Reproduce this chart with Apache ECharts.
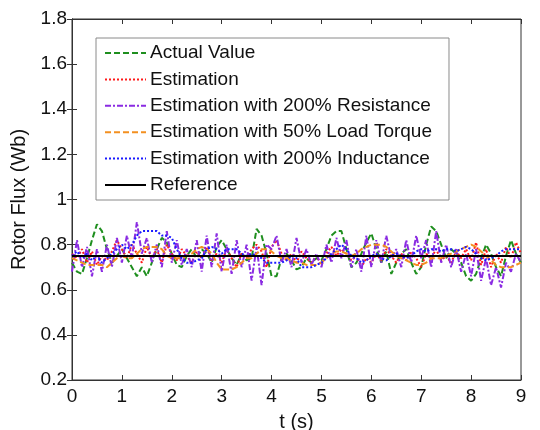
<!DOCTYPE html>
<html>
<head>
<meta charset="utf-8">
<script src="https://cdn.jsdelivr.net/npm/echarts@6/dist/echarts.min.js"></script>
<style>html,body{margin:0;padding:0;background:#fff;}#c{width:540px;height:430px;}</style>
</head>
<body>
<div id="c"></div>
<script>
const times = [0,0.1,0.2,0.3,0.4,0.5,0.6,0.7,0.8,0.9,1,1.1,1.2,1.3,1.4,1.5,1.6,1.7,1.8,1.9,2,2.1,2.2,2.3,2.4,2.5,2.6,2.7,2.8,2.9,3,3.1,3.2,3.3,3.4,3.5,3.6,3.7,3.8,3.9,4,4.1,4.2,4.3,4.4,4.5,4.6,4.7,4.8,4.9,5,5.1,5.2,5.3,5.4,5.5,5.6,5.7,5.8,5.9,6,6.1,6.2,6.3,6.4,6.5,6.6,6.7,6.8,6.9,7,7.1,7.2,7.3,7.4,7.5,7.6,7.7,7.8,7.9,8,8.1,8.2,8.3,8.4,8.5,8.6,8.7,8.8,8.9,9];

const actualValue = [0.72,0.68,0.67,0.74,0.82,0.89,0.86,0.78,0.72,0.75,
0.78,0.74,0.70,0.66,0.70,0.66,0.72,0.78,0.83,0.81,
0.76,0.71,0.70,0.75,0.78,0.74,0.78,0.76,0.72,0.79,
0.82,0.78,0.74,0.71,0.76,0.73,0.74,0.87,0.84,0.76,
0.66,0.66,0.74,0.76,0.73,0.69,0.70,0.74,0.72,0.74,
0.73,0.78,0.84,0.86,0.86,0.78,0.70,0.72,0.76,0.81,
0.85,0.78,0.72,0.77,0.67,0.72,0.76,0.78,0.72,0.67,
0.70,0.80,0.88,0.86,0.80,0.74,0.78,0.76,0.72,0.66,
0.64,0.67,0.74,0.80,0.76,0.70,0.66,0.75,0.82,0.76,0.72];

const estimation = [0.76,0.74,0.78,0.72,0.77,0.71,0.75,0.73,0.77,0.82,
0.78,0.74,0.80,0.76,0.72,0.79,0.74,0.78,0.72,0.80,
0.76,0.73,0.78,0.75,0.72,0.77,0.74,0.79,0.73,0.76,
0.72,0.78,0.74,0.70,0.76,0.74,0.78,0.80,0.77,0.70,
0.79,0.82,0.76,0.73,0.76,0.72,0.77,0.74,0.72,0.75,
0.71,0.76,0.79,0.75,0.78,0.76,0.73,0.75,0.70,0.74,
0.72,0.76,0.73,0.78,0.75,0.72,0.76,0.73,0.77,0.74,
0.70,0.76,0.74,0.78,0.73,0.75,0.72,0.77,0.74,0.78,
0.73,0.81,0.71,0.78,0.70,0.76,0.72,0.79,0.74,0.81,0.76];

const estResistance = [0.68,0.82,0.70,0.79,0.66,0.78,0.68,0.80,0.70,0.83,
0.72,0.84,0.74,0.90,0.76,0.83,0.72,0.80,0.70,0.86,
0.72,0.82,0.71,0.78,0.70,0.82,0.68,0.84,0.70,0.85,
0.68,0.80,0.67,0.82,0.70,0.80,0.64,0.79,0.62,0.80,
0.78,0.84,0.72,0.78,0.70,0.83,0.72,0.78,0.71,0.76,
0.70,0.80,0.72,0.83,0.74,0.82,0.70,0.78,0.68,0.84,
0.70,0.82,0.72,0.84,0.74,0.78,0.70,0.82,0.72,0.84,
0.74,0.82,0.70,0.86,0.72,0.80,0.70,0.78,0.68,0.76,
0.66,0.78,0.64,0.74,0.62,0.70,0.61,0.72,0.68,0.76,0.72];

const estLoadTorque = [0.74,0.73,0.72,0.71,0.71,0.71,0.71,0.70,0.72,0.74,
0.75,0.74,0.74,0.76,0.78,0.79,0.79,0.79,0.78,0.75,
0.74,0.74,0.74,0.75,0.76,0.78,0.79,0.78,0.76,0.72,
0.69,0.69,0.69,0.70,0.72,0.74,0.74,0.76,0.78,0.78,
0.77,0.75,0.74,0.74,0.73,0.72,0.72,0.71,0.71,0.71,
0.72,0.74,0.76,0.77,0.77,0.76,0.75,0.76,0.78,0.79,
0.80,0.80,0.80,0.79,0.77,0.75,0.74,0.73,0.72,0.71,
0.71,0.72,0.74,0.74,0.74,0.75,0.76,0.77,0.78,0.79,
0.80,0.79,0.77,0.75,0.73,0.71,0.70,0.70,0.70,0.71,0.72];

const estInductance = [0.75,0.77,0.74,0.76,0.73,0.75,0.72,0.74,0.76,0.78,
0.80,0.78,0.80,0.84,0.86,0.86,0.86,0.86,0.84,0.84,
0.83,0.78,0.74,0.72,0.72,0.73,0.74,0.78,0.79,0.78,
0.76,0.78,0.78,0.78,0.76,0.75,0.76,0.75,0.74,0.72,
0.72,0.72,0.72,0.73,0.75,0.74,0.70,0.70,0.70,0.71,
0.72,0.74,0.76,0.78,0.80,0.78,0.75,0.74,0.72,0.73,
0.75,0.76,0.74,0.73,0.75,0.76,0.75,0.74,0.75,0.77,
0.78,0.77,0.78,0.78,0.77,0.78,0.78,0.77,0.78,0.79,
0.78,0.76,0.74,0.73,0.74,0.75,0.77,0.78,0.78,0.78,0.78];

const refTimes = [0, 9];
const reference = [0.75, 0.75];

const seriesNames = ['Actual Value','Estimation','Estimation with 200% Resistance','Estimation with 50% Load Torque','Estimation with 200% Inductance','Reference'];

const xTicks = [0,1,2,3,4,5,6,7,8,9];
const yTicks = [0.2,0.4,0.6,0.8,1,1.2,1.4,1.6,1.8];

function pairs(xs, ys){ return xs.map((x,i)=>[x, ys[i]]); }

const chart = echarts.init(document.getElementById('c'), null, {renderer:'canvas'});
const font = 'Liberation Sans, Arial, sans-serif';
const mk = (name, xs, ys, color, type, width) => ({
  name, type:'line', data: pairs(xs, ys), symbol:'none', smooth:false,
  lineStyle:{color, width, type}, itemStyle:{color}, z: 2, animation:false
});

chart.setOption({
  animation:false,
  backgroundColor:'#fff',
  textStyle:{fontFamily:font},
  grid:{left:72, right:19, top:19, bottom:50, containLabel:false, outerBoundsMode:'none',
    show:true, borderColor:'#333', borderWidth:1, backgroundColor:'transparent'},
  legend:{
    orient:'vertical', left:96, top:38,
    backgroundColor:'#fff', borderColor:'#8a8a8a', borderWidth:1,
    padding:[5.5,17,5.5,8], itemGap:7.4, itemWidth:41, itemHeight:14,
    itemStyle:{opacity:0},
    textStyle:{fontSize:19, lineHeight:19, color:'#111', fontFamily:font, padding:[0,0,0,-1]},
    data: seriesNames, selectedMode:false
  },
  xAxis:[{
    type:'value', min:xTicks[0], max:xTicks[xTicks.length-1], interval:1,
    name:'t (s)', nameLocation:'middle', nameGap:32,
    nameTextStyle:{fontSize:20, color:'#111', fontFamily:font},
    axisLine:{show:true, lineStyle:{color:'#333'}},
    axisTick:{show:true, inside:true, length:5, lineStyle:{color:'#333'}},
    axisLabel:{fontSize:19, color:'#111', margin:7, fontFamily:font},
    splitLine:{show:false}
  },{
    type:'value', position:'top', min:0, max:9, interval:1,
    axisLine:{show:true, lineStyle:{color:'#333'}},
    axisTick:{show:true, inside:true, length:5, lineStyle:{color:'#333'}},
    axisLabel:{show:false}, splitLine:{show:false}
  }],
  yAxis:[{
    type:'value', min:yTicks[0], max:yTicks[yTicks.length-1], interval:0.2,
    name:'Rotor Flux (Wb)', nameLocation:'middle', nameGap:37,
    nameTextStyle:{fontSize:20, color:'#111', fontFamily:font},
    axisLine:{show:true, lineStyle:{color:'#333'}},
    axisTick:{show:true, inside:true, length:5, lineStyle:{color:'#333'}},
    axisLabel:{fontSize:19, color:'#111', margin:5, fontFamily:font,
      formatter:v=>String(Math.round(v*10)/10)},
    splitLine:{show:false}
  },{
    type:'value', position:'right', min:0.2, max:1.8, interval:0.2,
    axisLine:{show:true, lineStyle:{color:'#333'}},
    axisTick:{show:true, inside:true, length:5, lineStyle:{color:'#333'}},
    axisLabel:{show:false}, splitLine:{show:false}
  }],
  series:[
    mk(seriesNames[0], times, actualValue, '#1f8f1f', [6,3], 2),
    mk(seriesNames[1], times, estimation, '#ff1a1a', [2,2], 2),
    mk(seriesNames[2], times, estResistance, '#8a2be2', [6,2,2,2], 2),
    mk(seriesNames[3], times, estLoadTorque, '#f39020', [6,3], 2),
    mk(seriesNames[4], times, estInductance, '#1a1aff', [2,2], 2),
    mk(seriesNames[5], refTimes, reference, '#000000', 'solid', 2)
  ]
});
</script>
</body>
</html>
